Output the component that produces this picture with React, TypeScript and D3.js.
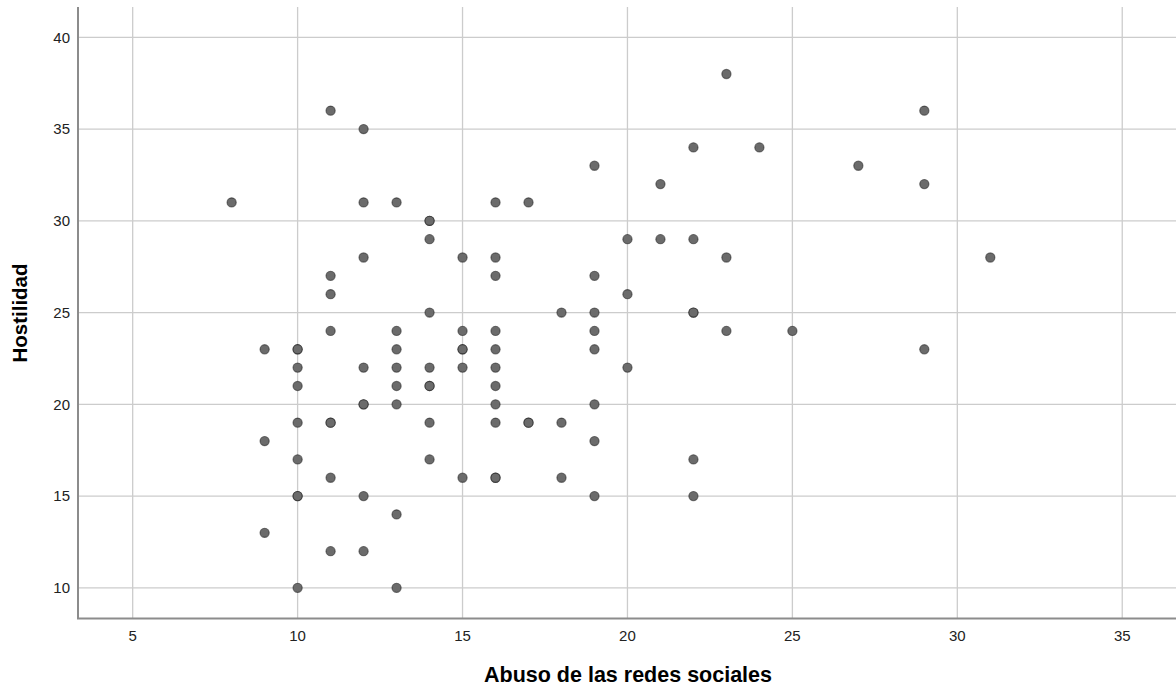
import React from "react";
import * as d3 from "d3";

const xValues: number[] = [
  8,
  9, 9, 9,
  10, 10, 10, 10, 10, 10, 10, 10, 10,
  11, 11, 11, 11, 11, 11, 11, 11,
  12, 12, 12, 12, 12, 12, 12, 12,
  13, 13, 13, 13, 13, 13, 13, 13,
  14, 14, 14, 14, 14, 14, 14, 14, 14,
  15, 15, 15, 15, 15, 15,
  16, 16, 16, 16, 16, 16, 16, 16, 16, 16, 16,
  17, 17, 17,
  18, 18, 18,
  19, 19, 19, 19, 19, 19, 19, 19,
  20, 20, 20,
  21, 21,
  22, 22, 22, 22, 22, 22,
  23, 23, 23,
  24,
  25,
  27,
  29, 29, 29,
  31,
];
const yValues: number[] = [
  31,
  23, 18, 13,
  23, 23, 22, 21, 19, 17, 15, 15, 10,
  36, 27, 26, 24, 19, 19, 16, 12,
  35, 31, 28, 22, 20, 20, 15, 12,
  31, 24, 23, 22, 21, 20, 14, 10,
  30, 30, 29, 25, 22, 21, 21, 19, 17,
  28, 24, 23, 23, 22, 16,
  31, 28, 27, 24, 23, 22, 21, 20, 19, 16, 16,
  31, 19, 19,
  25, 19, 16,
  33, 27, 25, 24, 23, 20, 18, 15,
  29, 26, 22,
  32, 29,
  34, 29, 25, 25, 17, 15,
  38, 28, 24,
  34,
  24,
  33,
  36, 32, 23,
  28,
];

const xTicks: number[] = [5, 10, 15, 20, 25, 30, 35];
const yTicks: number[] = [10, 15, 20, 25, 30, 35, 40];
const xTitle = "Abuso de las redes sociales";
const yTitle = "Hostilidad";

const W = 1176;
const H = 689;
const left = 78;
const top = 7;
const bottom = 618.5;
const right = 1176;

export default function App() {
  const x = d3.scaleLinear().domain([3.342, 36.63]).range([left, right]);
  const y = d3.scaleLinear().domain([8.33, 41.65]).range([bottom, top]);
  const pts = xValues.map((v, i) => ({ x: v, y: yValues[i] }));
  const font = "'Liberation Sans', Arial, sans-serif";

  return (
    <svg
      width={W}
      height={H}
      style={{ position: "absolute", left: 0, top: 0, background: "#fff" }}
      fontFamily={font}
    >
      <rect x={0} y={0} width={W} height={H} fill="#fff" />
      {xTicks.map((t) => (
        <line
          key={"gx" + t}
          x1={x(t)}
          x2={x(t)}
          y1={top}
          y2={bottom}
          stroke="#cccccc"
          strokeWidth={1.3}
        />
      ))}
      {yTicks.map((t) => (
        <line
          key={"gy" + t}
          x1={left}
          x2={right}
          y1={y(t)}
          y2={y(t)}
          stroke="#cccccc"
          strokeWidth={1.3}
        />
      ))}
      <line x1={left} x2={left} y1={top} y2={bottom} stroke="#8c8c8c" strokeWidth={2} />
      <line x1={left - 1} x2={right} y1={bottom} y2={bottom} stroke="#8c8c8c" strokeWidth={2} />
      {yTicks.map((t) => (
        <text
          key={"ty" + t}
          x={70}
          y={y(t)}
          dy="0.35em"
          textAnchor="end"
          fontSize={15}
          fill="#222"
        >
          {t}
        </text>
      ))}
      {xTicks.map((t) => (
        <text
          key={"tx" + t}
          x={x(t)}
          y={636}
          dy="0.35em"
          textAnchor="middle"
          fontSize={15}
          fill="#222"
        >
          {t}
        </text>
      ))}
      {pts.map((p, i) => (
        <circle
          key={"p" + i}
          cx={x(p.x)}
          cy={y(p.y)}
          r={4.6}
          fill="#6b6b6b"
          stroke="#1a1a1a"
          strokeOpacity={0.55}
          strokeWidth={1.1}
        />
      ))}
      <text
        x={628}
        y={682}
        textAnchor="middle"
        fontSize={21.5}
        fontWeight="bold"
        fill="#000"
      >
        {xTitle}
      </text>
      <text
        transform={`translate(27,${313}) rotate(-90)`}
        textAnchor="middle"
        fontSize={20.5}
        fontWeight="bold"
        fill="#000"
      >
        {yTitle}
      </text>
    </svg>
  );
}
